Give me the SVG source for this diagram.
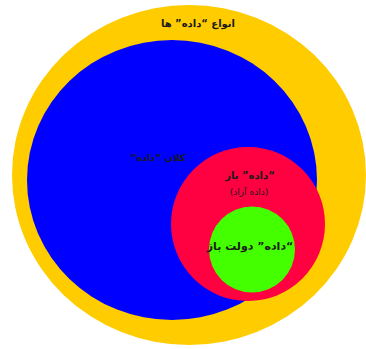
<svg xmlns="http://www.w3.org/2000/svg" width="366" height="349" viewBox="0 0 366 349" xml:lang="fa">
<style>
.t{font-family:"DejaVu Sans",sans-serif;font-weight:bold;fill:#1a1a1a;text-anchor:middle}
.s{font-family:"DejaVu Sans",sans-serif;fill:#1a1a1a;text-anchor:middle}
</style>
<rect width="366" height="349" fill="#ffffff"/>
<g id="types">
<ellipse cx="189" cy="175" rx="177" ry="170" fill="#FFCC00"/>
<text class="t" x="198" y="27" font-size="10" direction="rtl">&#xFE8D;&#xFEE7;&#xFEEE;&#xFE8D;&#xFEC9; &#x201C;&#xFEA9;&#xFE8D;&#xFEA9;&#xFEE9;&#x201D; &#xFEEB;&#xFE8E;</text>
</g>
<g id="bigdata">
<ellipse cx="172" cy="180" rx="145" ry="140" fill="#0000FF"/>
<text class="t" x="158" y="161" font-size="9.5" direction="rtl">&#xFB90;&#xFEFC;&#xFEE5; &#x201C;&#xFEA9;&#xFE8D;&#xFEA9;&#xFEE9;&#x201D;</text>
</g>
<g id="opendata">
<circle cx="248" cy="224" r="77" fill="#FF0040"/>
<text class="t" x="250" y="179" font-size="10" direction="rtl">&#x201C;&#xFEA9;&#xFE8D;&#xFEA9;&#xFEE9;&#x201D; &#xFE91;&#xFE8E;&#xFEAF;</text>
<text class="s" x="249" y="195" font-size="9" direction="rtl">(&#xFEA9;&#xFE8D;&#xFEA9;&#xFEE9; &#xFE81;&#xFEAF;&#xFE8D;&#xFEA9;)</text>
</g>
<g id="opengov">
<circle cx="252" cy="249.5" r="43" fill="#44FF00"/>
<text class="t" x="250" y="250" font-size="11" direction="rtl">&#x201C;&#xFEA9;&#xFE8D;&#xFEA9;&#xFEE9;&#x201D; &#xFEA9;&#xFEED;&#xFEDF;&#xFE96; &#xFE91;&#xFE8E;&#xFEAF;</text>
</g>
</svg>
